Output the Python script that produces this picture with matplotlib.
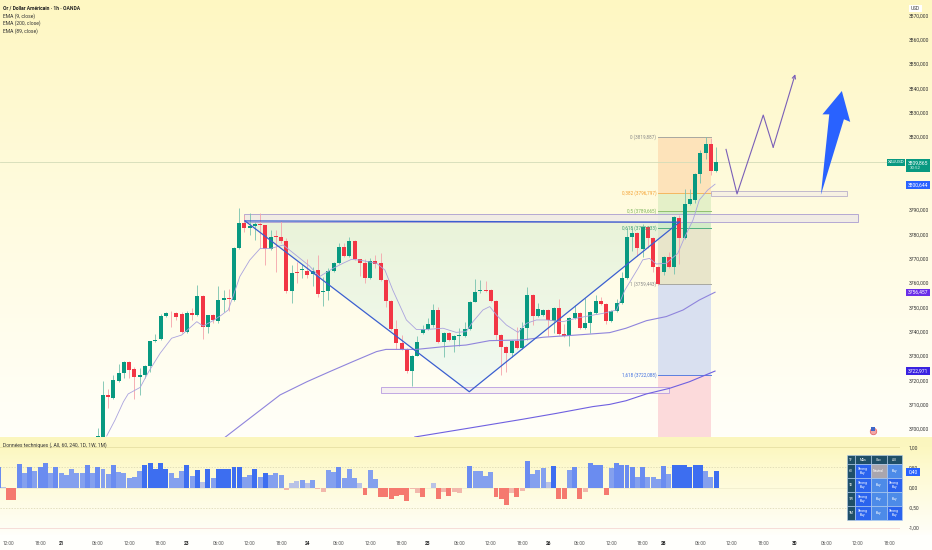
import numpy as np
import matplotlib
matplotlib.use('Agg')
import matplotlib.pyplot as plt
from matplotlib.patches import Polygon, Rectangle

plt.rcParams['font.family'] = ['Roboto', 'DejaVu Sans']

# candles, first one sits at bar index -1
opens = [3696.5, 3690.0, 3714.1, 3712.7, 3719.8, 3723.1, 3727.4, 3724.5, 3721.5, 3722.0,
         3725.9, 3736.0, 3736.8, 3746.4, 3747.8, 3747.5, 3747.1, 3740.0, 3747.5, 3747.0,
         3754.5, 3741.8, 3746.7, 3744.5, 3752.9, 3753.7, 3753.1, 3774.2, 3784.8, 3782.7,
         3783.4, 3784.2, 3783.7, 3773.8, 3779.2, 3779.0, 3777.4, 3756.7, 3764.4, 3765.3,
         3765.1, 3763.6, 3765.3, 3756.3, 3756.8, 3765.0, 3768.1, 3774.7, 3771.1, 3777.4,
         3769.7, 3768.3, 3762.0, 3769.0, 3768.1, 3761.2, 3752.5, 3741.1, 3735.5, 3732.9,
         3724.0, 3730.1, 3739.3, 3740.9, 3742.6, 3748.8, 3735.9, 3739.6, 3736.4, 3738.2,
         3738.2, 3741.0, 3752.2, 3756.6, 3757.1, 3757.1, 3752.7, 3738.8, 3733.5, 3731.4,
         3736.0, 3733.4, 3741.6, 3755.1, 3746.4, 3746.8, 3748.8, 3744.5, 3749.6, 3739.0,
         3738.2, 3745.5, 3747.5, 3741.6, 3743.4, 3747.8, 3752.7, 3751.4, 3744.5, 3748.5,
         3751.8, 3761.9, 3778.8, 3780.4, 3774.0, 3783.2, 3778.4, 3766.7, 3764.4, 3770.5,
         3766.7, 3786.8, 3778.6, 3792.6, 3794.1, 3804.9, 3813.3, 3817.1, 3806.0]
closes = [3697.1, 3714.1, 3713.0, 3720.1, 3723.1, 3727.4, 3724.2, 3721.2, 3722.2, 3725.9,
          3736.0, 3736.7, 3746.6, 3747.5, 3747.5, 3746.2, 3740.0, 3747.5, 3746.8, 3754.5,
          3741.8, 3746.7, 3744.7, 3753.1, 3753.7, 3753.3, 3774.2, 3784.8, 3782.7, 3783.6,
          3784.2, 3783.7, 3774.0, 3779.0, 3778.9, 3777.3, 3756.7, 3764.1, 3764.0, 3765.6,
          3763.4, 3764.8, 3755.3, 3756.9, 3765.0, 3768.1, 3774.7, 3771.1, 3777.1, 3769.9,
          3768.3, 3762.0, 3769.0, 3767.9, 3761.2, 3752.5, 3741.1, 3735.5, 3732.9, 3724.0,
          3730.1, 3735.9, 3740.9, 3743.0, 3749.0, 3735.9, 3739.6, 3736.4, 3738.2, 3738.6,
          3741.0, 3752.2, 3756.4, 3757.1, 3756.8, 3752.7, 3738.6, 3733.5, 3731.4, 3736.0,
          3733.4, 3741.6, 3755.1, 3746.4, 3749.3, 3748.8, 3744.6, 3749.6, 3738.9, 3738.2,
          3745.5, 3747.7, 3741.6, 3743.4, 3748.1, 3752.7, 3751.4, 3744.5, 3748.5, 3751.8,
          3761.9, 3778.8, 3780.4, 3774.2, 3783.2, 3778.4, 3766.7, 3759.5, 3770.5, 3766.7,
          3787.1, 3778.6, 3792.6, 3794.4, 3804.9, 3813.4, 3817.3, 3806.0, 3809.7]
highs = [3700.2, 3719.7, 3716.3, 3722.0, 3726.6, 3727.9, 3727.8, 3725.6, 3724.9, 3726.4,
         3736.3, 3739.0, 3747.1, 3748.2, 3748.6, 3748.2, 3748.0, 3748.6, 3749.6, 3759.2,
         3755.0, 3747.0, 3747.2, 3758.8, 3757.1, 3757.4, 3774.6, 3790.9, 3787.9, 3788.6,
         3785.2, 3788.6, 3784.0, 3781.8, 3781.8, 3785.6, 3778.4, 3767.4, 3768.8, 3768.0,
         3769.7, 3766.4, 3771.5, 3762.3, 3766.0, 3768.6, 3776.6, 3776.3, 3779.0, 3777.7,
         3770.0, 3769.7, 3770.1, 3771.5, 3772.5, 3761.6, 3753.0, 3744.8, 3738.6, 3733.2,
         3730.5, 3738.2, 3742.7, 3745.5, 3751.2, 3750.0, 3740.0, 3740.0, 3738.6, 3741.4,
         3744.1, 3752.6, 3761.5, 3761.2, 3760.8, 3757.5, 3753.0, 3739.2, 3733.9, 3736.4,
         3742.0, 3744.1, 3758.2, 3755.5, 3751.6, 3749.2, 3749.2, 3750.0, 3753.3, 3743.0,
         3746.0, 3751.0, 3748.0, 3753.7, 3748.6, 3755.0, 3754.4, 3751.8, 3749.0, 3753.3,
         3764.6, 3782.5, 3782.5, 3781.0, 3784.2, 3783.6, 3778.8, 3767.0, 3771.0, 3772.9,
         3787.5, 3788.0, 3798.6, 3798.6, 3805.3, 3814.7, 3819.9, 3819.5, 3816.0]
lows = [3696.0, 3688.0, 3708.6, 3712.5, 3719.5, 3720.8, 3721.1, 3712.2, 3714.0, 3720.8,
        3723.5, 3735.8, 3736.5, 3746.0, 3741.8, 3744.8, 3739.3, 3739.3, 3744.8, 3746.5,
        3736.8, 3739.3, 3743.7, 3743.4, 3748.2, 3748.6, 3752.5, 3774.0, 3781.1, 3779.7,
        3777.7, 3774.2, 3767.4, 3773.5, 3764.7, 3776.3, 3755.8, 3751.9, 3759.9, 3761.9,
        3761.9, 3758.8, 3754.4, 3750.5, 3753.0, 3764.6, 3767.8, 3770.5, 3770.8, 3769.5,
        3762.9, 3759.9, 3761.5, 3766.0, 3760.8, 3750.3, 3740.8, 3732.7, 3732.5, 3722.9,
        3717.8, 3729.8, 3739.0, 3740.5, 3742.0, 3735.5, 3729.7, 3736.0, 3731.8, 3734.2,
        3737.8, 3740.6, 3752.0, 3756.0, 3756.4, 3752.3, 3736.6, 3722.0, 3723.5, 3729.7,
        3733.0, 3733.0, 3736.6, 3742.7, 3746.0, 3746.4, 3738.2, 3739.3, 3738.5, 3737.8,
        3734.2, 3745.0, 3741.2, 3741.0, 3739.6, 3747.4, 3751.0, 3743.1, 3744.0, 3748.1,
        3751.4, 3761.5, 3773.3, 3771.1, 3770.8, 3774.2, 3764.7, 3759.0, 3763.3, 3766.3,
        3763.6, 3767.8, 3778.2, 3792.2, 3792.7, 3801.2, 3810.8, 3804.4, 3805.6]

# moving averages: bar index, price
ema9_x = [0.7, 2.3, 3.9, 4.8, 7.1, 8.7, 10.9, 13.1, 15, 17.9, 19.1, 21, 22.6, 23.9, 24.9, 26.1, 28, 30, 32,
          34.4, 39.4, 41.3, 43.9, 45.8, 47.4, 49, 52.2, 53.8, 55.3, 57.9, 59.8, 61.7, 64.9, 67.4, 69.3, 70.6,
          72.5, 73.8, 75.1, 77, 79.2, 80.8, 82.7, 84.6, 87.8, 90.3, 93.5, 95.4, 98, 99.6, 102.1, 103, 104.3,
          105.6, 107.5, 109.7, 111, 112.6, 113.8, 115.4, 116.8]
ema9_y = [3697.1, 3703.7, 3711.2, 3714.4, 3717.1, 3723.5, 3731.1, 3737.3, 3738.6, 3744.1, 3742.3, 3744.5,
          3746.8, 3748.9, 3755.0, 3762.6, 3769.4, 3774.2, 3774.2, 3775.6, 3767.0, 3762.6, 3766.0, 3768.1,
          3769.7, 3769.4, 3768.1, 3765.3, 3757.1, 3744.8, 3740.9, 3740.9, 3741.4, 3739.7, 3740.0, 3744.1,
          3748.9, 3750.3, 3746.8, 3742.7, 3739.7, 3743.4, 3744.8, 3744.8, 3744.1, 3745.5, 3746.8, 3747.5,
          3748.9, 3757.1, 3766.0, 3769.5, 3770.1, 3767.8, 3768.1, 3772.2, 3778.8, 3785.9, 3794.1, 3798.2, 3800.6]
ema89_x = [23.3, 28, 33.8, 38.9, 43.3, 47.7, 52.2, 54, 59.8, 64.9, 69.3, 73.8, 80.1, 84, 90.3, 96.7, 99.8,
           103.7, 107.5, 110.7, 113.8, 116.8]
ema89_y = [3696.6, 3704.4, 3714.0, 3719.4, 3723.6, 3727.7, 3731.8, 3732.7, 3732.7, 3733.8, 3734.5, 3736.3,
           3736.6, 3737.7, 3738.6, 3739.6, 3741.4, 3744.5, 3746.2, 3748.9, 3753.0, 3756.2]
ema200_x = [59.5, 70, 80.1, 86.5, 93.5, 96.7, 99.8, 103.7, 108.1, 111.9, 116.8]
ema200_y = [3696.7, 3700.4, 3704.0, 3706.4, 3709.2, 3710.1, 3711.6, 3714.4, 3716.7, 3719.4, 3723.8]

fib_ratios = ['0', '0,382', '0,5', '0,618', '1', '1,618']
fib_prices = [3819.887, 3796.797, 3789.665, 3782.533, 3759.443, 3722.088]

# cup drawing and zones
cup_x = [27.1, 69.9, 110]
cup_y = [3785.5, 3715.3, 3785.0]
zigzag_x = [118.9, 121, 126, 127.9, 132.1]
zigzag_y = [3814.9, 3796.6, 3829, 3815.8, 3845.8]
big_arrow_x = [137, 138.6, 137.3, 141, 142.6, 141.4]
big_arrow_y = [3796.2, 3829.3, 3829.3, 3838.9, 3826.2, 3827.3]
zones = [(27, 144, 3785.0, 3788.2), (116, 142, 3795.7, 3797.7), (53, 108, 3714.7, 3717.1)]

# indicator bars, first one sits at bar index -20
tech_values = [0.5, 0.02, -0.3, -0.3, 0.58, 0.36, 0.52, 0.42, 0.52, 0.61, 0.36, 0.5, 0.36, 0.32, 0.46, 0.37,
               0.37, 0.57, 0.36, 0.52, 0.47, 0.33, 0.56, 0.4, 0.36, 0.23, 0.27, 0.42, 0.57, 0.61, 0.47, 0.61,
               0.47, 0.36, 0.23, 0.42, 0.57, 0.29, 0.43, 0.13, 0.46, 0.25, 0.47, 0.47, 0.47, 0.52, 0.52, 0.27,
               0.32, 0.46, 0.27, 0.37, 0.32, 0.37, 0.32, -0.07, 0.11, 0.17, 0.2, 0.11, 0.2, -0.04, -0.12, 0.43,
               0.38, 0.52, 0.25, 0.47, 0.25, 0.11, -0.17, 0.43, 0.22, -0.22, -0.24, -0.29, -0.2, -0.19, -0.32,
               -0.04, -0.13, -0.23, 0.0, 0.12, -0.29, -0.12, -0.21, -0.11, -0.14, 0.0, 0.53, 0.42, 0.42, 0.29,
               0.39, -0.23, -0.29, -0.43, -0.14, -0.24, -0.08, 0.65, 0.35, 0.43, 0.48, 0.13, 0.54, -0.27, -0.27,
               0.43, 0.5, -0.27, -0.12, 0.61, 0.57, 0.57, -0.18, 0.48, 0.61, 0.57, 0.57, 0.52, 0.27, 0.5, 0.27,
               0.27, 0.22, 0.54, 0.35, 0.57, 0.57, 0.57, 0.52, 0.57, 0.57, 0.42, 0.27, 0.42]
strong_bars = [8, 9, 10, 11, 12, 16, 18, 20, 22, 23, 24, 25, 26, 29, 31, 86, 109, 110, 111, 112, 113, 114, 117]

tick_bars = [-18, -12, -8, -1, 5, 11, 16, 22, 28, 34, 39, 45, 51, 57, 62, 68, 74, 80, 85, 91, 97, 103, 107,
             114, 120, 126, 132, 138, 144, 150]
tick_names = ['12:00', '18:00', '21', '06:00', '12:00', '18:00', '23', '06:00', '12:00', '18:00', '24', '06:00',
              '12:00', '18:00', '25', '06:00', '12:00', '18:00', '26', '06:00', '12:00', '18:00', '28', '06:00',
              '12:00', '18:00', '30', '06:00', '12:00', '18:00']

table_rows = [['TF', 'MAs', 'Osc', 'All'],
              ['60', 'Strong\nBuy', 'Neutral', 'Buy'],
              ['1D', 'Strong\nBuy', 'Buy', 'Strong\nBuy'],
              ['1W', 'Strong\nBuy', 'Buy', 'Buy'],
              ['1M', 'Strong\nBuy', 'Buy', 'Strong\nBuy']]

GREEN = '#089981'
RED = '#f23645'
W, H = 932, 550
PANE_BOTTOM = 437
x_left = -103 / 5.24
x_right = (900 - 103) / 5.24

fig = plt.figure(figsize=(W / 100, H / 100), dpi=100)


def gradient(stops):
    rows = np.arange(H)
    ys = [s[0] for s in stops]
    img = np.zeros((H, 1, 3))
    for c in range(3):
        img[:, 0, c] = np.interp(rows, ys, [s[1][c] / 255 for s in stops])
    return img


# background of whole picture
bg = fig.add_axes([0, 0, 1, 1], zorder=0)
bg.imshow(gradient([(0, (254, 247, 194)), (200, (255, 251, 222)), (436, (255, 255, 249)),
                    (437, (251, 246, 190)), (447, (252, 247, 192)), (470, (254, 250, 210)),
                    (530, (255, 254, 246)), (535, (255, 255, 252)), (550, (255, 255, 252))]),
          aspect='auto', extent=[0, W, H, 0])
bg.axis('off')

# main pane
ax = fig.add_axes([0, (H - PANE_BOTTOM) / H, 900 / W, PANE_BOTTOM / H], zorder=1)
ax.patch.set_alpha(0)
ax.set_xlim(x_left, x_right)
ax.set_ylim(3696.7, 3876.3)
for s in ax.spines.values():
    s.set_visible(False)
ax.set_xticks([])
ax.yaxis.tick_right()
ax.set_yticks(np.arange(3700, 3880, 10))
ax.set_yticklabels(['%d,000' % v for v in np.arange(3700, 3880, 10)], fontsize=3.6, color='#333333')
ax.tick_params(axis='y', length=0, pad=6.5)

# fib block
fib_left, fib_right = 106, 116
fib_fill = ['#fde3ba', '#e4f0c8', '#d4ecc8', '#e8e5ca', '#d9e0f0']
for k in range(5):
    ax.add_patch(Rectangle((fib_left, fib_prices[k + 1]), fib_right - fib_left, fib_prices[k] - fib_prices[k + 1],
                           fc=fib_fill[k], ec='none', zorder=1))
ax.add_patch(Rectangle((fib_left, 3690), fib_right - fib_left, fib_prices[5] - 3690, fc='#fcdadb', ec='none', zorder=1))
fib_line = ['#a8a8a0', '#f5b760', '#8fc070', '#4fb080', '#a8a8a0', '#5a7fe0']
fib_text = ['#8a8a8a', '#f5a030', '#7cb45a', '#3a9e70', '#8a8a8a', '#3f6fe0']
for k in range(6):
    ax.plot([fib_left, fib_right], [fib_prices[k]] * 2, color=fib_line[k], lw=0.7, zorder=2)
    ax.text(fib_left - 0.4, fib_prices[k], '%s (%s)' % (fib_ratios[k], ('%.3f' % fib_prices[k]).replace('.', ',')),
            ha='right', va='center', fontsize=3.3, color=fib_text[k], zorder=6)

# cup fill
cup_poly = Polygon(list(zip(cup_x, cup_y)), closed=True, fc='none', ec='none', transform=ax.transData)
ax.add_patch(cup_poly)
shade = np.zeros((64, 1, 4))
shade[:, 0, 0] = np.linspace(0.82, 0.88, 64)
shade[:, 0, 1] = np.linspace(0.92, 0.96, 64)
shade[:, 0, 2] = np.linspace(0.82, 0.95, 64)
shade[:, 0, 3] = 0.45
im = ax.imshow(shade, aspect='auto', extent=[cup_x[0], cup_x[2], cup_y[1], cup_y[0]], zorder=1)
im.set_clip_path(cup_poly)
ax.set_xlim(x_left, x_right)
ax.set_ylim(3696.7, 3876.3)

ax.axhline(closes[-1] + 0.165, color='#d3dcb8', lw=0.6, zorder=1)

zone_edge = ['#a99bd0', '#b8aec8', '#b79ae0']
zone_fill = ['#efeae6', '#f6f0e4', '#f5eef0']
for k, (x0, x1, y0, y1) in enumerate(zones):
    ax.add_patch(Rectangle((x0, y0), x1 - x0, y1 - y0, fc=zone_fill[k], ec=zone_edge[k], lw=0.7, alpha=0.85, zorder=2))

# candles
xs = np.arange(len(opens)) - 1
o = np.array(opens)
c = np.array(closes)
cols = [GREEN if c[k] >= o[k] else RED for k in range(len(o))]
wick_cols = ['#76c2ae' if c[k] >= o[k] else '#f5a3aa' for k in range(len(o))]
ax.vlines(xs, lows, highs, colors=wick_cols, lw=0.6, zorder=3)
ax.bar(xs, np.abs(c - o), bottom=np.minimum(o, c), width=0.76, color=cols, lw=0, zorder=4)

# moving averages
ax.plot(ema9_x, ema9_y, color='#aaa3de', lw=0.6, zorder=5)
ax.plot(ema89_x, ema89_y, color='#8f84dc', lw=0.8, zorder=5)
ax.plot(ema200_x, ema200_y, color='#6f60e0', lw=0.8, zorder=5)

# cup lines
ax.plot([cup_x[0], cup_x[1], cup_x[2]], [cup_y[0], cup_y[1], cup_y[2]], color='#3b5fd0', lw=0.9, zorder=5)
ax.plot([cup_x[0], cup_x[2]], [cup_y[0], cup_y[2]], color='#3b5fd0', lw=0.9, zorder=5)

# projected path
ax.plot(zigzag_x[:-1], zigzag_y[:-1], color='#7a5fb8', lw=0.8, zorder=6)
ax.annotate('', xy=(zigzag_x[-1], zigzag_y[-1]), xytext=(zigzag_x[-2], zigzag_y[-2]),
            arrowprops=dict(arrowstyle='->', color='#7a5fb8', lw=0.8, mutation_scale=6, shrinkA=0, shrinkB=0), zorder=6)
ax.add_patch(Polygon(list(zip(big_arrow_x, big_arrow_y)), closed=True, fc='#2962ff', ec='none', zorder=6))

# flag marker
ax.scatter([147], [3699.2], s=22, c='#f2a6a6', edgecolors='#e25b5b', linewidths=0.5, zorder=6)
ax.scatter([147], [3699.9], s=5, c='#3f66c8', marker='s', linewidths=0, zorder=7)

# indicator pane
ind = fig.add_axes([0, (H - 536) / H, 900 / W, 99 / H], zorder=1)
ind.patch.set_alpha(0)
ind.set_xlim(x_left, x_right)
ind.set_ylim(-1.198, 1.255)
for s in ind.spines.values():
    s.set_visible(False)
bar_x = np.arange(len(tech_values)) - 20


def bar_colour(idx, v):
    if v >= 0:
        if idx in strong_bars:
            return '#3d6ef0'
        if v < 0.2:
            return '#b9c2e6'
        return '#6a8cf0' if v >= 0.5 else '#84a0ee'
    return '#f5796f' if v < -0.15 else '#f2b8ac'


ind.bar(bar_x, tech_values, width=0.94, color=[bar_colour(bar_x[k], tech_values[k]) for k in range(len(bar_x))], lw=0, zorder=3)
ind.axhline(1, color='#e9e3a8', lw=0.7, zorder=1)
ind.axhline(-1, color='#f6dcd8', lw=0.7, zorder=1)
ind.axhline(0, color='#eeeacc', lw=0.5, zorder=1)
for lv in [0.5, -0.5]:
    ind.axhline(lv, color='#d8d4b0', lw=0.5, ls=(0, (2, 2)), zorder=1)
ind.yaxis.tick_right()
ind.set_yticks([1, 0.5, 0, -0.5, -1])
ind.set_yticklabels(['1,00', '0,50', '0,00', '-0,50', '-1,00'], fontsize=3.6, color='#333333')
ind.tick_params(axis='y', length=0, pad=6.5)
ind.set_xticks(tick_bars)
ind.set_xticklabels(tick_names, fontsize=3.4, color='#555555')
ind.tick_params(axis='x', length=0, pad=3.4)
for lab in ind.get_xticklabels():
    if ':' not in lab.get_text():
        lab.set_color('#222222')
        lab.set_fontweight('bold')

# signal table
tb = fig.add_axes([846.7 / W, (H - 520) / H, 55 / W, 65 / H], zorder=4)
tb.axis('off')
cell_cols = []
for row_i, row in enumerate(table_rows):
    line = []
    for col_i, val in enumerate(row):
        if row_i == 0 or col_i == 0:
            line.append('#1f4f68')
        elif val == 'Neutral':
            line.append('#a9a6ae')
        elif val == 'Buy':
            line.append('#4d8be8')
        else:
            line.append('#2a63ee')
    cell_cols.append(line)
table = tb.table(cellText=table_rows, cellColours=cell_cols, colWidths=[0.15, 0.285, 0.29, 0.275],
                 cellLoc='center', bbox=[0, 0, 1, 1])
table.auto_set_font_size(False)
table.set_fontsize(2.4)
for key, cell in table.get_celld().items():
    cell.set_edgecolor('#b5d0f0')
    cell.set_linewidth(0.4)
    cell.get_text().set_color('white')
    cell.PAD = 0.05
    cell.set_height(0.14 if key[0] == 0 else 0.215)

# overlay in pixels for legend text and price tags
ov = fig.add_axes([0, 0, 1, 1], zorder=5)
ov.set_xlim(0, W)
ov.set_ylim(H, 0)
ov.axis('off')
ov.text(3, 7.7, 'Or / Dollar Américain · 1h · OANDA', fontsize=3.6, fontweight='bold', color='#222222', va='center')
for yy, name in zip([15.7, 23.3, 31], ['EMA (9, close)', 'EMA (200, close)', 'EMA (89, close)']):
    ov.text(3, yy, name, fontsize=3.6, color='#333333', va='center')
ov.text(3, 445.5, 'Données techniques (, All, 60, 240, 1D, 1W, 1M)', fontsize=3.6, color='#333333', va='center')

ov.add_patch(Rectangle((909, 4.5), 13, 7, fc='white', ec='none'))
ov.text(915.5, 8, 'USD', fontsize=3.4, color='#333333', ha='center', va='center')


def tag(x0, y0, w, h, colour, label, size=3.6):
    ov.add_patch(Rectangle((x0, y0), w, h, fc=colour, ec='none'))
    ov.text(x0 + w / 2, y0 + h / 2, label, fontsize=size, color='white', ha='center', va='center')


tag(886.7, 159, 18.3, 6.6, GREEN, 'XAUUSD', 3.2)
ov.add_patch(Rectangle((906, 159), 24, 13.3, fc=GREEN, ec='none'))
ov.text(918, 162.7, '3809,865', fontsize=3.6, color='white', ha='center', va='center')
ov.text(915, 168.3, '30:52', fontsize=3.2, color='#d5f0e8', ha='center', va='center')
tag(906, 181, 24, 7.7, '#2962ff', '3800,644')
tag(906, 289, 24, 7, '#6a2ee8', '3756,457')
tag(906, 367.3, 24, 7.4, '#3a22e0', '3722,971')
tag(906, 468, 14, 7.7, '#2962ff', '0,40')

fig.savefig('out.png', dpi=100)
